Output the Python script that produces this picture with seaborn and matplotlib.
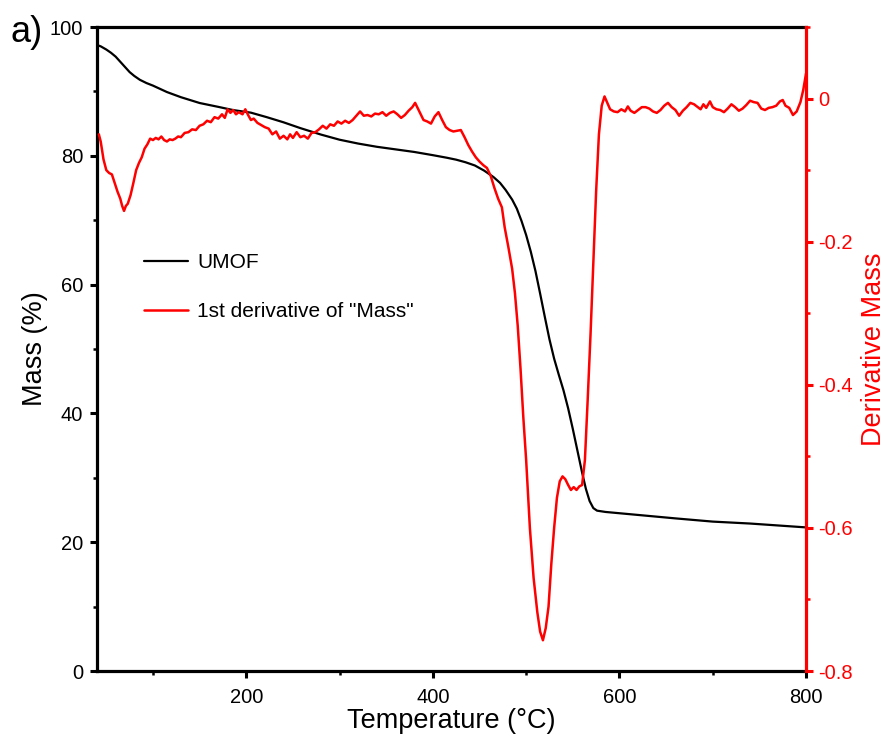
import numpy as np
import pandas as pd
import matplotlib
matplotlib.use("Agg")
import matplotlib.pyplot as plt
from matplotlib.ticker import MultipleLocator
import seaborn as sns

# ---- data ----
mass_temp = [40, 44, 50, 55, 60, 65, 70, 75, 80, 86, 93, 100, 115, 130, 150, 170, 186,
             205, 222, 240, 258, 280, 300, 320, 340, 360, 380, 400, 415, 425, 435, 445,
             455, 465, 472, 478, 485, 490, 495, 500, 505, 510, 515, 520, 525, 530, 535, 540,
             545, 550, 555, 560, 564, 568, 572, 576, 585, 600, 630, 660, 700, 740, 770, 800]
mass_val = [97.2, 97.0, 96.5, 96.0, 95.4, 94.6, 93.8, 93.0, 92.4, 91.8, 91.3, 90.9, 89.9,
            89.1, 88.2, 87.6, 87.1, 86.7, 86.0, 85.2, 84.3, 83.3, 82.5, 81.9, 81.4, 81.0,
            80.6, 80.1, 79.7, 79.4, 79.0, 78.5, 77.7, 76.7, 75.8, 74.7, 73.2, 71.8, 69.9,
            67.7, 65.1, 62.1, 58.6, 55.0, 51.5, 48.5, 46.0, 43.6, 40.8, 37.6, 34.2, 30.8,
            28.3, 26.4, 25.3, 24.9, 24.7, 24.5, 24.1, 23.7, 23.2, 22.9, 22.6, 22.3]

deriv_temp = [42, 44, 47, 50, 53, 56, 59, 62, 65, 67, 69, 71, 73, 76, 79, 82, 85, 88, 91,
              94, 97, 100, 103, 106, 109, 112, 115, 118, 121, 124, 127, 130, 134, 138, 142,
              146, 150, 154, 158, 162, 166, 170, 174, 177, 180, 183, 186, 189, 192, 196, 199,
              202, 205, 208, 212, 216, 220, 224, 228, 232, 236, 240, 244, 247, 250, 254, 258,
              262, 266, 270, 274, 278, 282, 286, 290, 294, 298, 302, 306, 310, 314, 318, 322,
              326, 330, 334, 338, 342, 346, 350, 354, 358, 362, 366, 370, 374, 378, 381, 384,
              387, 390, 394, 398, 402, 406, 410, 414, 418, 422, 426, 430, 434, 438, 442, 446,
              450, 454, 458, 462, 466, 470, 474, 477, 481, 485, 488, 491, 494, 497, 500, 504,
              508, 512, 515, 518, 521, 524, 527, 530, 533, 536, 539, 542, 545, 548, 551, 554,
              557, 560, 563, 566, 569, 572, 575, 578, 581, 584, 587, 590, 594, 598, 602, 606,
              609, 612, 616, 620, 624, 628, 632, 636, 640, 644, 648, 652, 656, 660, 664, 668,
              672, 676, 680, 684, 687, 690, 693, 697, 700, 704, 708, 712, 716, 720, 724, 728,
              732, 736, 740, 744, 748, 752, 756, 760, 764, 768, 772, 775, 778, 782, 786, 790,
              794, 797, 800]
deriv_val = [-0.050, -0.060, -0.085, -0.100, -0.104, -0.106, -0.118, -0.130, -0.140, -0.150,
             -0.157, -0.150, -0.147, -0.135, -0.118, -0.100, -0.090, -0.082, -0.070, -0.064,
             -0.056, -0.058, -0.055, -0.057, -0.053, -0.058, -0.060, -0.057, -0.058, -0.056,
             -0.053, -0.054, -0.048, -0.047, -0.043, -0.044, -0.038, -0.036, -0.031, -0.033,
             -0.026, -0.028, -0.022, -0.027, -0.015, -0.020, -0.016, -0.022, -0.019, -0.022,
             -0.015, -0.023, -0.030, -0.028, -0.034, -0.037, -0.040, -0.042, -0.050, -0.046,
             -0.056, -0.052, -0.057, -0.050, -0.055, -0.047, -0.054, -0.052, -0.056, -0.048,
             -0.047, -0.043, -0.038, -0.042, -0.036, -0.038, -0.032, -0.035, -0.031, -0.034,
             -0.030, -0.024, -0.018, -0.024, -0.023, -0.025, -0.021, -0.022, -0.019, -0.024,
             -0.020, -0.018, -0.022, -0.027, -0.023, -0.017, -0.012, -0.006, -0.014, -0.022,
             -0.030, -0.032, -0.035, -0.025, -0.019, -0.030, -0.040, -0.044, -0.046, -0.045,
             -0.044, -0.054, -0.065, -0.074, -0.082, -0.088, -0.093, -0.097, -0.108, -0.125,
             -0.140, -0.152, -0.180, -0.208, -0.238, -0.272, -0.318, -0.378, -0.446, -0.505,
             -0.600, -0.670, -0.718, -0.745, -0.757, -0.740, -0.710, -0.650, -0.600, -0.558,
             -0.535, -0.528, -0.532, -0.540, -0.547, -0.543, -0.547, -0.542, -0.540, -0.505,
             -0.420, -0.330, -0.230, -0.130, -0.050, -0.010, 0.003, -0.006, -0.015, -0.018,
             -0.019, -0.015, -0.018, -0.011, -0.017, -0.020, -0.016, -0.012, -0.012, -0.014,
             -0.018, -0.020, -0.016, -0.010, -0.006, -0.012, -0.016, -0.024, -0.017, -0.012,
             -0.006, -0.008, -0.012, -0.015, -0.008, -0.013, -0.004, -0.012, -0.015, -0.016,
             -0.019, -0.014, -0.008, -0.012, -0.017, -0.014, -0.009, -0.003, -0.005, -0.006,
             -0.014, -0.016, -0.013, -0.012, -0.010, -0.004, -0.002, -0.010, -0.013, -0.023,
             -0.018, -0.005, 0.012, 0.035]

x_ticks = [200, 400, 600, 800]
y_ticks = [0, 20, 40, 60, 80, 100]
y2_ticks = [-0.8, -0.6, -0.4, -0.2, 0.0]
y2_ticklabels = ["-0.8", "-0.6", "-0.4", "-0.2", "0"]

sns.set_theme(style="ticks")
plt.rcParams["font.family"] = ["Liberation Sans", "DejaVu Sans"]
plt.rcParams["text.color"] = "black"
plt.rcParams["axes.labelcolor"] = "black"

df_mass = pd.DataFrame({"T": mass_temp, "v": mass_val})
df_der = pd.DataFrame({"T": deriv_temp, "v": deriv_val})

fig = plt.figure(figsize=(8.88, 7.44), dpi=100)
ax = fig.add_axes([0.1092, 0.0981, 0.7985, 0.8656])
ax2 = ax.twinx()

sns.lineplot(data=df_mass, x="T", y="v", ax=ax, color="black", lw=1.6, label="UMOF", legend=False)
sns.lineplot(data=df_der, x="T", y="v", ax=ax2, color="#ff0000", lw=1.8,
             label='1st derivative of "Mass"', legend=False)

ax.set_xlim(40, 800)
ax.set_ylim(0, 100)
ax2.set_ylim(-0.8, 0.1)

ax.set_xticks(x_ticks)
ax.set_yticks(y_ticks)
ax.xaxis.set_minor_locator(MultipleLocator(100))
ax.yaxis.set_minor_locator(MultipleLocator(10))
ax2.set_yticks(y2_ticks)
ax2.set_yticklabels(y2_ticklabels)
ax2.yaxis.set_minor_locator(MultipleLocator(0.1))

for a in (ax, ax2):
    for s in a.spines.values():
        s.set_linewidth(2.3)
ax.spines["right"].set_visible(False)
for k in ("left", "top", "bottom"):
    ax2.spines[k].set_visible(False)
ax.spines["top"].set_color("black")
ax.spines["left"].set_color("black")
ax.spines["bottom"].set_color("black")
ax2.spines["right"].set_color("#ff0000")

ax.tick_params(axis="both", which="major", direction="out", length=5, width=2.2,
               labelsize=14.5, colors="black", pad=5)
ax.tick_params(axis="both", which="minor", direction="out", length=3, width=1.8, colors="black")
ax.tick_params(axis="x", which="major", pad=7)
ax2.tick_params(axis="y", which="major", direction="out", length=5, width=2.2,
                labelsize=14.5, colors="#ff0000", pad=4)
ax2.tick_params(axis="y", which="minor", direction="out", length=3, width=1.8, colors="#ff0000")

ax.set_xlabel("Temperature (°C)", fontsize=19.5, color="black", labelpad=1)
ax.set_ylabel("Mass (%)", fontsize=19.5, color="black", labelpad=1)
ax2.set_ylabel("Derivative Mass", fontsize=19.5, color="#ff0000", labelpad=6)

h1, l1 = ax.get_legend_handles_labels()
h2, l2 = ax2.get_legend_handles_labels()
leg = ax.legend(h1 + h2, l1 + l2, loc="upper left", bbox_to_anchor=(0.04, 0.678),
                frameon=False, fontsize=15, handlelength=2.1, labelspacing=1.45,
                handletextpad=0.45)
for t in leg.get_texts():
    t.set_color("black")

fig.text(0.012, 0.943, "a)", fontsize=26, color="black")

fig.savefig("out.png", dpi=100)
